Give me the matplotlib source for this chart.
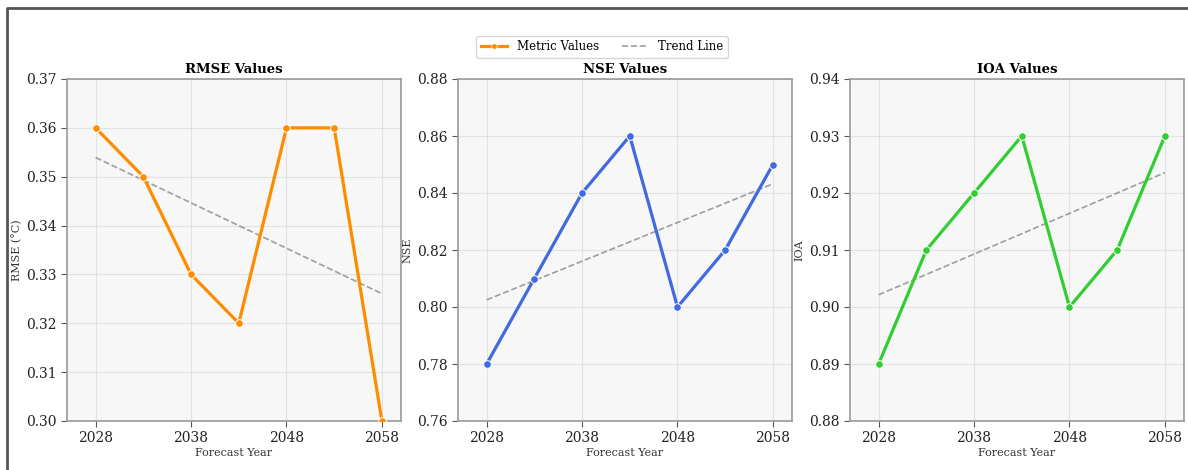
import numpy as np
import matplotlib
matplotlib.use('Agg')
import matplotlib.pyplot as plt
from matplotlib.lines import Line2D

plt.rcParams['font.family'] = 'DejaVu Serif'

years = [2028, 2033, 2038, 2043, 2048, 2053, 2058]
rmse = [0.36, 0.35, 0.33, 0.32, 0.36, 0.36, 0.30]
nse = [0.78, 0.81, 0.84, 0.86, 0.80, 0.82, 0.85]
ioa = [0.89, 0.91, 0.92, 0.93, 0.90, 0.91, 0.93]

titles = ['RMSE Values', 'NSE Values', 'IOA Values']
ylabels = ['RMSE (°C)', 'NSE', 'IOA']
colors = ['#FF8C00', '#4169E1', '#32CD32']
ylims = [(0.30, 0.37), (0.76, 0.88), (0.88, 0.94)]
ysteps = [0.01, 0.02, 0.01]
xticks = [2028, 2038, 2048, 2058]

W, H = 1188, 470
fig = plt.figure(figsize=(W / 100, H / 100), dpi=100)

lefts = [67, 458, 850]
axes = []
for l in lefts:
    axes.append(fig.add_axes([l / W, 49 / H, 334 / W, 342 / H]))

series = [rmse, nse, ioa]
for ax, vals, t, yl, c, lim, st in zip(axes, series, titles, ylabels, colors, ylims, ysteps):
    ax.set_facecolor('#f7f7f7')
    ax.grid(True, color='#dddddd', linewidth=0.8, alpha=0.8)
    ax.set_axisbelow(True)
    x = np.array(years)
    y = np.array(vals)
    ax.plot(x, y, color=c, linewidth=2.3, marker='o', markersize=5.5,
            markeredgecolor='white', markeredgewidth=0.7, zorder=3)
    # linear trend
    k, b = np.polyfit(x, y, 1)
    ax.plot(x, k * x + b, color='gray', linestyle='--', linewidth=1.2, alpha=0.75, zorder=2)
    ax.set_xlim(2025, 2060)
    ax.set_ylim(*lim)
    ax.set_xticks(xticks)
    ax.set_yticks(np.arange(lim[0], lim[1] + st / 2, st))
    ax.yaxis.set_major_formatter(matplotlib.ticker.FormatStrFormatter('%.2f'))
    ax.tick_params(labelsize=10, color='#555555', labelcolor='#222222', length=4)
    ax.set_title(t, fontsize=9.5, fontweight='bold', pad=4)
    ax.set_xlabel('Forecast Year', fontsize=8, labelpad=2, color='#333333')
    ax.set_ylabel(yl, fontsize=8, labelpad=3, color='#333333')
    for s in ax.spines.values():
        s.set_color('#999999')
        s.set_linewidth(1.2)

handles = [Line2D([], [], color=colors[0], linewidth=2.3, marker='o', markersize=4,
                  markeredgecolor='white', markeredgewidth=0.5),
           Line2D([], [], color='gray', linestyle='--', linewidth=1.2, alpha=0.75)]
fig.legend(handles, ['Metric Values', 'Trend Line'], loc='center',
           bbox_to_anchor=(602 / W, 1 - 47 / H), ncol=2, fontsize=8.5,
           frameon=True, columnspacing=2.0, handlelength=2.2,
           borderpad=0.4, edgecolor='#cccccc')

# frame round the figure
fig.add_artist(Line2D([7 / W, 7 / W, 1.0], [0.0, 1 - 8 / H, 1 - 8 / H],
                      transform=fig.transFigure, color='#555555', linewidth=2))

fig.savefig('out.png', dpi=100)
